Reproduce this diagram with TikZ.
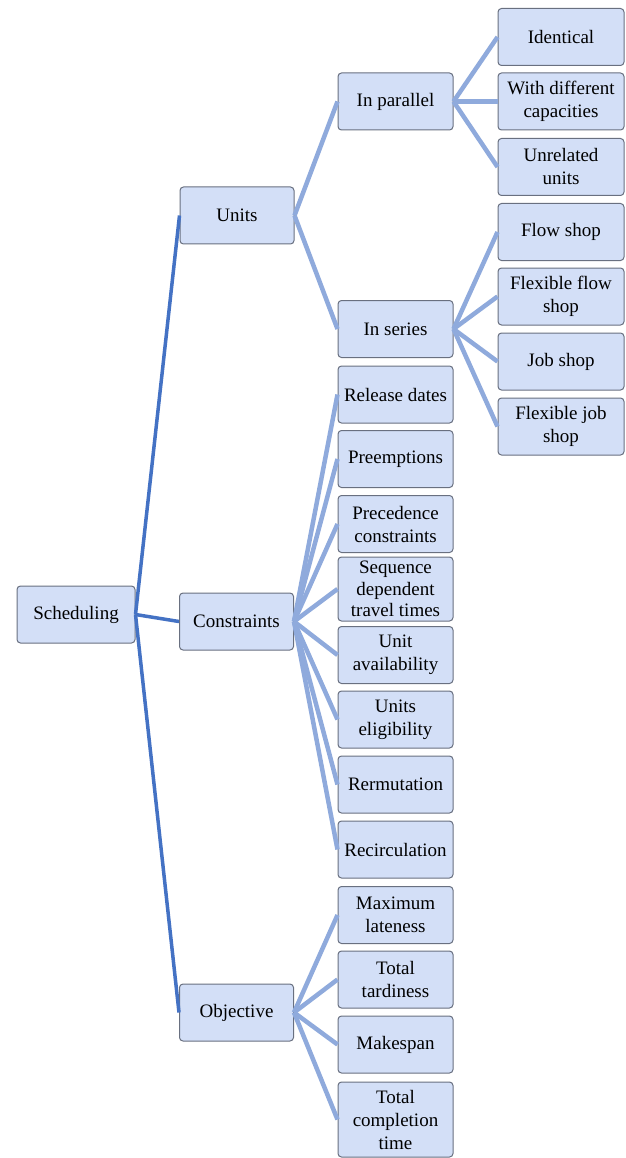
\documentclass[tikz,border=0pt]{standalone}
\usepackage{fontspec}
\setmainfont{Liberation Serif}
\definecolor{boxfill}{RGB}{211,223,247}
\definecolor{boxline}{RGB}{105,112,128}
\definecolor{mainline}{RGB}{68,114,196}
\definecolor{subline}{RGB}{143,170,220}
\begin{document}
\begin{tikzpicture}[x=1pt,y=-1pt,
  box/.style={draw=boxline,line width=1pt,fill=boxfill,rounded corners=3.5pt,
    align=center,inner sep=0pt,font=\fontsize{19}{23}\selectfont},
  lvone/.style={box,minimum width=114pt,minimum height=57pt},
  lvtwo/.style={box,minimum width=115pt,minimum height=57pt},
  lvthree/.style={box,minimum width=126pt,minimum height=57pt},
  mainlink/.style={draw=mainline,line width=3.5pt},
  sublink/.style={draw=subline,line width=4.5pt}]
\useasboundingbox (0,0) rectangle (625,1158);
% root
\node[box,minimum width=118pt,minimum height=57pt] (sched) at (76,614.5) {Scheduling};
% level 1
\node[lvone] (units) at (237,215.5) {Units};
\node[lvone] (cons) at (236.5,621.5) {Constraints};
\node[lvone] (obj) at (236.5,1012.5) {Objective};
% level 2
\node[lvtwo] (par) at (395.5,101.5) {In parallel};
\node[lvtwo] (ser) at (395.5,329) {In series};
\node[lvtwo] (rel) at (395.5,394.5) {Release dates};
\node[lvtwo] (pre) at (395.5,459) {Preemptions};
\node[lvtwo] (prec) at (395.5,524) {Precedence\\constraints};
\node[lvtwo,minimum height=64pt,font=\fontsize{19}{21.5}\selectfont] (seq) at (395.5,589) {Sequence\\dependent\\travel times};
\node[lvtwo] (avail) at (395.5,655) {Unit\\availability};
\node[lvtwo] (elig) at (395.5,719.5) {Units\\eligibility};
\node[lvtwo] (perm) at (395.5,784.5) {Rermutation};
\node[lvtwo] (recirc) at (395.5,849.5) {Recirculation};
\node[lvtwo] (maxl) at (395.5,915) {Maximum\\lateness};
\node[lvtwo] (tard) at (395.5,979.5) {Total\\tardiness};
\node[lvtwo] (mks) at (395.5,1044.5) {Makespan};
\node[lvtwo,minimum height=75pt] (tct) at (395.5,1119.5) {Total\\completion\\time};
% level 3
\node[lvthree] (ident) at (561,37) {Identical};
\node[lvthree] (diff) at (561,101.5) {With different\\capacities};
\node[lvthree] (unrel) at (561,167) {Unrelated\\units};
\node[lvthree] (flow) at (561,232) {Flow shop};
\node[lvthree] (fflow) at (561,296.5) {Flexible flow\\shop};
\node[lvthree] (job) at (561,361.5) {Job shop};
\node[lvthree] (fjob) at (561,426.5) {Flexible job\\shop};
% connectors
\foreach \t in {units,cons,obj} \draw[mainlink] (sched.east) -- (\t.west);
\foreach \t in {par,ser} \draw[sublink] (units.east) -- (\t.west);
\foreach \t in {ident,diff,unrel} \draw[sublink] (par.east) -- (\t.west);
\foreach \t in {flow,fflow,job,fjob} \draw[sublink] (ser.east) -- (\t.west);
\foreach \t in {rel,pre,prec,seq,avail,elig,perm,recirc} \draw[sublink] (cons.east) -- (\t.west);
\foreach \t in {maxl,tard,mks,tct} \draw[sublink] (obj.east) -- (\t.west);
\end{tikzpicture}
\end{document}
